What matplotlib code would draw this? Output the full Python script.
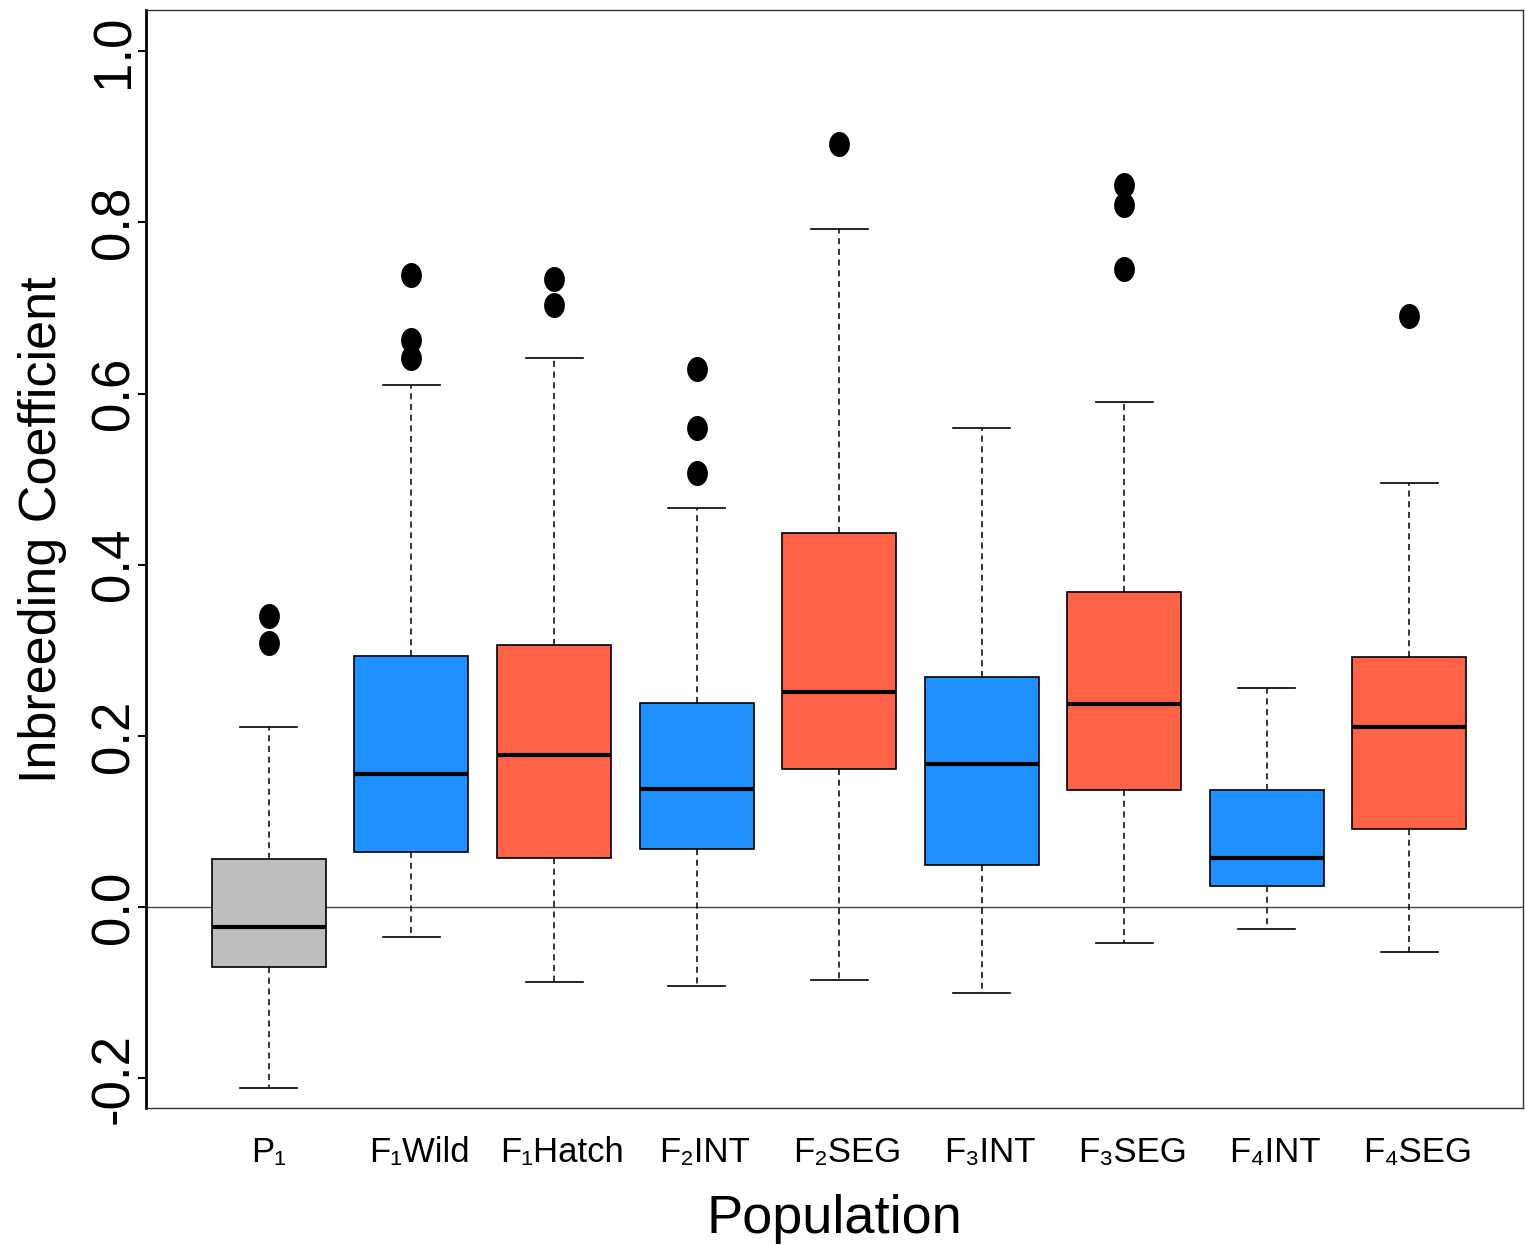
import numpy as np
import matplotlib
matplotlib.use("Agg")
import matplotlib.pyplot as plt
from matplotlib.path import Path
from matplotlib.transforms import ScaledTranslation

plt.rcParams['font.family'] = ['Liberation Sans', 'DejaVu Sans']

# populations and box statistics
pops = ['P₁', 'F₁Wild', 'F₁Hatch', 'F₂INT', 'F₂SEG', 'F₃INT', 'F₃SEG', 'F₄INT', 'F₄SEG']
whislo = [-0.211, -0.035, -0.087, -0.092, -0.085, -0.100, -0.042, -0.025, -0.052]
q1     = [-0.070, 0.064, 0.057, 0.068, 0.162, 0.049, 0.137, 0.025, 0.091]
med    = [-0.023, 0.156, 0.178, 0.138, 0.251, 0.167, 0.237, 0.057, 0.210]
q3     = [0.056, 0.294, 0.306, 0.238, 0.437, 0.269, 0.368, 0.137, 0.292]
whishi = [0.210, 0.610, 0.642, 0.466, 0.792, 0.560, 0.590, 0.256, 0.495]
fliers = [[0.340, 0.309],
          [0.642, 0.662, 0.739],
          [0.704, 0.734],
          [0.507, 0.560, 0.629],
          [0.891],
          [],
          [0.745, 0.820, 0.844],
          [],
          [0.691]]
colors = ['#BEBEBE', '#1E90FF', '#FF6347', '#1E90FF', '#FF6347',
          '#1E90FF', '#FF6347', '#1E90FF', '#FF6347']

stats = []
for i in range(len(pops)):
    stats.append(dict(whislo=whislo[i], q1=q1[i], med=med[i], q3=q3[i],
                      whishi=whishi[i], fliers=fliers[i], label=pops[i]))

# slightly tall ellipse for the outlier points (R pch 19 looked stretched)
t = np.linspace(0, 2 * np.pi, 60)
ellipse = Path(np.column_stack([0.82 * np.cos(t), np.sin(t)]), closed=True)

fig = plt.figure(figsize=(15.25, 12.45), dpi=100)
ax = fig.add_axes([146/1525, 1 - 1108/1245, 1 - 146/1525 - 0.001, (1108 - 10)/1245])

ax.axhline(0, color='#444444', lw=1.0, zorder=0)

bp = ax.bxp(stats, positions=np.arange(1, len(pops) + 1), widths=0.8,
            patch_artist=True, showfliers=True,
            boxprops=dict(edgecolor='black', linewidth=1.2),
            medianprops=dict(color='black', linewidth=3),
            whiskerprops=dict(color='black', linewidth=1.1, linestyle=(0, (4, 3))),
            capprops=dict(color='black', linewidth=1.2),
            capwidths=0.4,
            flierprops=dict(marker=ellipse, markerfacecolor='black', markeredgecolor='black',
                            markersize=17))
for patch, c in zip(bp['boxes'], colors):
    patch.set_facecolor(c)
    patch.set_zorder(2)

ax.set_xlim(0.138, 9.80)
ax.set_ylim(-0.2345, 1.048)

ax.set_yticks([-0.2, 0.0, 0.2, 0.4, 0.6, 0.8, 1.0])
ax.set_yticklabels(['-0.2', '0.0', '0.2', '0.4', '0.6', '0.8', '1.0'],
                   rotation=90, va='center', fontsize=38)
ax.tick_params(axis='y', length=6, width=1.5, pad=-1)
ax.tick_params(axis='x', length=0, labelsize=25, pad=20)

# R centred the longer labels a touch to the right of the boxes
for lab in ax.get_xticklabels()[1:]:
    lab.set_transform(lab.get_transform() + ScaledTranslation(8/100, 0, fig.dpi_scale_trans))

for s in ['top', 'right', 'bottom']:
    ax.spines[s].set_color('#333333')
    ax.spines[s].set_linewidth(1.0)
ax.spines['left'].set_color('black')
ax.spines['left'].set_linewidth(2.0)

ax.set_ylabel('Inbreeding Coefficient', fontsize=37.5, labelpad=16)
ax.yaxis.label.set_y(0.527)
ax.set_xlabel('Population', fontsize=39, labelpad=18)

fig.savefig('out.png', dpi=100)
